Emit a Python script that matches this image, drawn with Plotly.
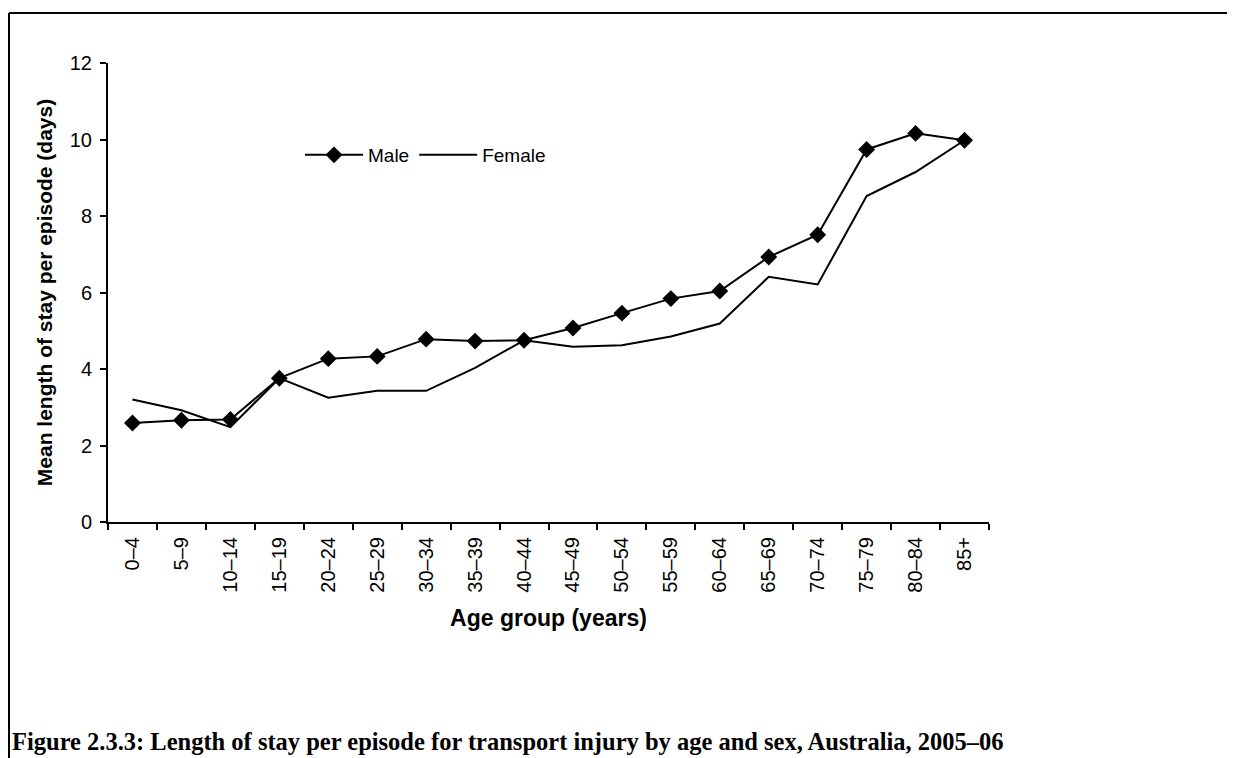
import plotly.graph_objects as go

age_groups = ["0–4", "5–9", "10–14", "15–19", "20–24", "25–29", "30–34", "35–39",
              "40–44", "45–49", "50–54", "55–59", "60–64", "65–69", "70–74",
              "75–79", "80–84", "85+"]
male = [2.59, 2.66, 2.68, 3.76, 4.27, 4.33, 4.78, 4.73, 4.75, 5.07, 5.46, 5.84,
        6.04, 6.93, 7.51, 9.74, 10.16, 9.98]
female = [3.20, 2.92, 2.48, 3.76, 3.25, 3.43, 3.43, 4.03, 4.75, 4.58, 4.62, 4.85,
          5.19, 6.41, 6.21, 8.52, 9.15, 9.98]
y_ticks = [0, 2, 4, 6, 8, 10, 12]

# page has an 8px body margin; figure coordinates are page coordinates minus 8
OFF = 8
W, H = 1235 - OFF, 758 - OFF
L, R, T, B = 108 - OFF, 989 - OFF, 63 - OFF, 522 - OFF
PW, PH = R - L, B - T


def px(x):
    return (x - OFF - L) / PW


def py(y):
    return 1 - (y - OFF - T) / PH


fig = go.Figure()
fig.add_trace(go.Scatter(x=age_groups, y=male, name="Male", mode="lines+markers",
                         line=dict(color="black", width=2),
                         marker=dict(symbol="diamond", size=13, color="black")))
fig.add_trace(go.Scatter(x=age_groups, y=female, name="Female", mode="lines",
                         line=dict(color="black", width=2)))

font_sans = "Liberation Sans, Arial, sans-serif"
fig.update_layout(
    width=W, height=H,
    margin=dict(l=L, r=W - R, t=T, b=H - B, pad=0),
    paper_bgcolor="white", plot_bgcolor="white",
    font=dict(family=font_sans, color="black", size=20),
    showlegend=True,
    legend=dict(orientation="h", x=px(300), y=py(155),
                xanchor="left", yanchor="middle", font=dict(size=19, family=font_sans),
                bgcolor="rgba(0,0,0,0)", itemwidth=58, tracegroupgap=0),
    xaxis=dict(type="category", range=[-0.5, len(age_groups) - 0.5], tickangle=-90,
               showline=True, linecolor="black",
               linewidth=2, ticks="outside", tickson="boundaries", ticklen=6,
               tickwidth=2, tickcolor="black", showgrid=False, zeroline=False,
               ticklabelstandoff=5,
               tickfont=dict(size=20, family=font_sans),
               title=dict(text="<b>Age group (years)</b>", font=dict(size=23), standoff=18)),
    yaxis=dict(range=[0, 12], tickvals=y_ticks, showline=True, linecolor="black",
               linewidth=2, ticks="outside", ticklen=6, tickwidth=2, tickcolor="black",
               showgrid=False, zeroline=False, ticklabelstandoff=4,
               tickfont=dict(size=20, family=font_sans),
               title=dict(text="<b>Mean length of stay per episode (days)</b>",
                          font=dict(size=21), standoff=11)),
)

# Frame lines (top and left)
fig.add_shape(type="line", xref="paper", yref="paper",
              x0=px(9), x1=px(1240), y0=py(13), y1=py(13),
              line=dict(color="black", width=2))
fig.add_shape(type="line", xref="paper", yref="paper",
              x0=px(9), x1=px(9), y0=py(13), y1=py(770),
              line=dict(color="black", width=2))

fig.add_annotation(text="<b>Figure 2.3.3: Length of stay per episode for transport injury by age and sex, Australia, 2005–06</b>",
                   xref="paper", yref="paper", x=px(10), y=py(741),
                   xanchor="left", yanchor="middle", showarrow=False,
                   font=dict(family="Liberation Serif, serif", size=24.5, color="black"))

fig.write_html("out.html")
